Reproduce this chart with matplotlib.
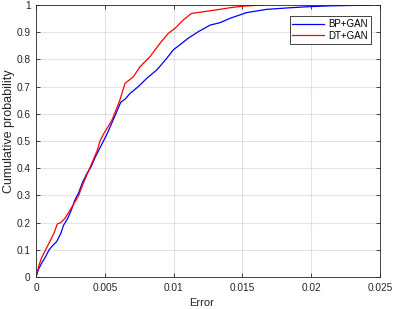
import matplotlib
matplotlib.use("Agg")
import matplotlib.pyplot as plt

bp_err = [0.0, 0.0002, 0.0004, 0.0007, 0.00095, 0.0012, 0.0015, 0.0018, 0.002, 0.0023,
          0.0026, 0.0028, 0.0031, 0.0034, 0.0037, 0.004, 0.0043, 0.0046, 0.0049, 0.0052,
          0.0055, 0.0058, 0.00615, 0.0065, 0.00683, 0.0072, 0.00756, 0.00804, 0.00877, 0.0091,
          0.0095, 0.00998, 0.01059, 0.01107, 0.0118, 0.01265, 0.01337, 0.0141, 0.0153, 0.01677,
          0.0185, 0.0199, 0.0215, 0.0235, 0.0245]
bp_cdf = [0.0, 0.03, 0.05, 0.075, 0.1, 0.115, 0.13, 0.16, 0.19, 0.215,
          0.25, 0.28, 0.31, 0.35, 0.38, 0.405, 0.44, 0.47, 0.5, 0.53,
          0.565, 0.6, 0.642, 0.655, 0.675, 0.69, 0.706, 0.73, 0.761, 0.78,
          0.804, 0.835, 0.859, 0.878, 0.902, 0.926, 0.935, 0.951, 0.972, 0.984,
          0.99, 0.994, 0.997, 0.999, 1.0]

dt_err = [0.0, 0.0002, 0.0004, 0.0007, 0.001, 0.0013, 0.00155, 0.0018, 0.0021, 0.0024,
          0.0027, 0.0031, 0.0034, 0.00365, 0.0039, 0.0042, 0.00445, 0.00465, 0.0049, 0.0052,
          0.0055, 0.00562, 0.0061, 0.00647, 0.00707, 0.00756, 0.00828, 0.00901, 0.00962, 0.0101,
          0.0107, 0.0113, 0.0131, 0.0141, 0.0151, 0.0165]
dt_cdf = [0.0, 0.04, 0.07, 0.1, 0.13, 0.16, 0.195, 0.2, 0.215, 0.24,
          0.265, 0.3, 0.34, 0.37, 0.4, 0.435, 0.465, 0.5, 0.525, 0.55,
          0.575, 0.589, 0.651, 0.712, 0.736, 0.773, 0.81, 0.859, 0.896, 0.914,
          0.945, 0.969, 0.982, 0.99, 0.996, 1.0]

x_ticks = [0, 0.005, 0.01, 0.015, 0.02, 0.025]
x_labels = ["0", "0.005", "0.01", "0.015", "0.02", "0.025"]
y_ticks = [0, 0.1, 0.2, 0.3, 0.4, 0.5, 0.6, 0.7, 0.8, 0.9, 1]
y_labels = ["0", "0.1", "0.2", "0.3", "0.4", "0.5", "0.6", "0.7", "0.8", "0.9", "1"]

plt.rcParams['font.family'] = ['Liberation Sans', 'DejaVu Sans']
ax_col = (0.15, 0.15, 0.15)

fig = plt.figure(figsize=(3.94, 3.09), dpi=100)
ax = fig.add_axes([36 / 394, 1 - 277 / 309, (380 - 36) / 394, (277 - 5) / 309])

ax.plot(bp_err, bp_cdf, color=(0, 0, 1), linewidth=0.9, label="BP+GAN")
ax.plot(dt_err, dt_cdf, color=(1, 0, 0), linewidth=0.9, label="DT+GAN")

ax.set_xlim(0, 0.025)
ax.set_ylim(0, 1)
ax.set_xticks(x_ticks)
ax.set_xticklabels(x_labels)
ax.set_yticks(y_ticks)
ax.set_yticklabels(y_labels)
ax.tick_params(direction='in', length=3, width=0.6, labelsize=7.3, colors=ax_col,
               top=True, right=True, pad=4)
ax.grid(True, color=(0.15, 0.15, 0.15), alpha=0.12, linewidth=0.8)
for s in ax.spines.values():
    s.set_color(ax_col)
    s.set_linewidth(0.6)

ax.set_xlabel("Error", fontsize=8, color=ax_col)
ax.set_ylabel("Cumulative probability", fontsize=9, color=ax_col)
ax.xaxis.set_label_coords((202 - 36) / 344, -21 / 272)
ax.yaxis.set_label_coords(-21 / 344, (277 - 131) / 272)

leg = ax.legend(loc='upper right', bbox_to_anchor=(1 - 9 / 344, 1 - 11 / 272),
                fontsize=7, fancybox=False, framealpha=1, edgecolor=ax_col,
                borderaxespad=0, handlelength=3.2, handletextpad=0.5,
                labelspacing=0.2, borderpad=0.3)
leg.get_frame().set_linewidth(0.6)

fig.savefig("out.png", dpi=100)
